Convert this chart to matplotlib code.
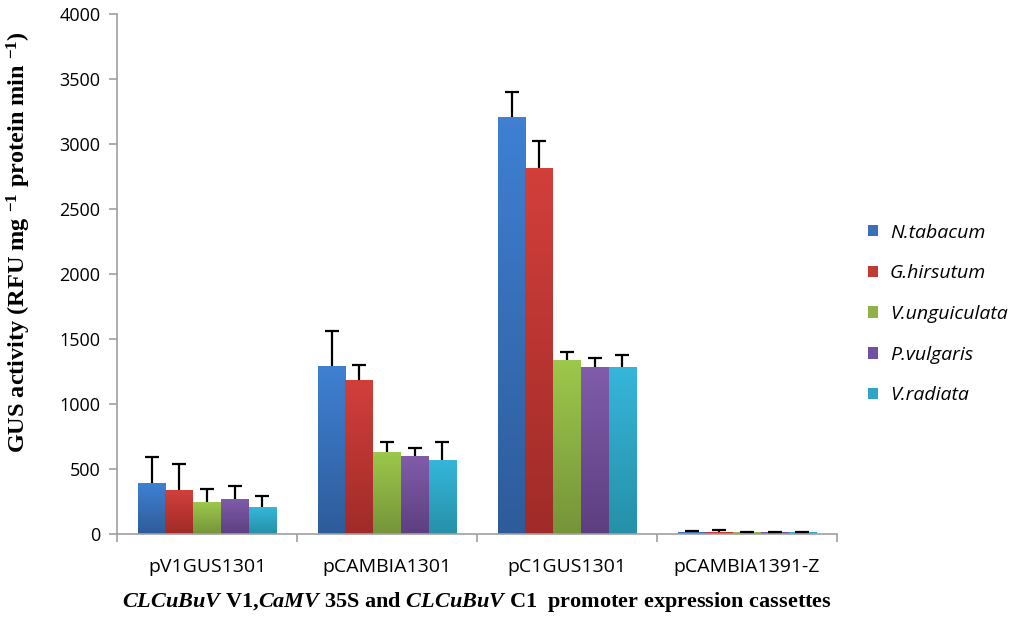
import numpy as np
import matplotlib.pyplot as plt
from matplotlib.colors import LinearSegmentedColormap
from matplotlib.patches import Patch

plt.rcParams['mathtext.fontset'] = 'custom'
plt.rcParams['mathtext.rm'] = 'Liberation Serif:bold'
plt.rcParams['mathtext.it'] = 'Liberation Serif:italic:bold'
plt.rcParams['mathtext.bf'] = 'Liberation Serif:bold'

# ---- data ----
cassettes = ['pV1GUS1301', 'pCAMBIA1301', 'pC1GUS1301', 'pCAMBIA1391-Z']
species = ['N.tabacum', 'G.hirsutum', 'V.unguiculata', 'P.vulgaris', 'V.radiata']

n_tabacum = [390, 1290, 3210, 15]
g_hirsutum = [337, 1185, 2818, 15]
v_unguiculata = [245, 633, 1338, 15]
p_vulgaris = [271, 598, 1287, 15]
v_radiata = [207, 569, 1287, 15]

# upper error (top of whisker minus bar value)
n_tabacum_err = [202, 272, 192, 5]
g_hirsutum_err = [202, 115, 205, 18]
v_unguiculata_err = [100, 77, 64, 3]
p_vulgaris_err = [99, 61, 64, 3]
v_radiata_err = [87, 141, 90, 3]

values = [n_tabacum, g_hirsutum, v_unguiculata, p_vulgaris, v_radiata]
errors = [n_tabacum_err, g_hirsutum_err, v_unguiculata_err, p_vulgaris_err, v_radiata_err]

# top / bottom gradient colours per series
tops = ['#3f80d2', '#d23f3b', '#9cc84b', '#805caa', '#35b6da']
bottoms = ['#2e5c9a', '#a02b28', '#76943a', '#5d3f80', '#2690a8']
legend_cols = ['#3a70b8', '#c03a36', '#8fb348', '#7050a0', '#30a4c4']

fig = plt.figure(figsize=(10.24, 6.22), dpi=100)
ax = fig.add_axes([117 / 1024, 88 / 622, 720 / 1024, 520 / 622])

x = np.arange(len(cassettes))
w = 0.154
offsets = (np.arange(5) - 2) * w

for i in range(5):
    bars = ax.bar(x + offsets[i], values[i], width=w, color=tops[i],
                  linewidth=0, zorder=2)
    cmap = LinearSegmentedColormap.from_list('g%d' % i, [bottoms[i], tops[i]])
    grad = np.linspace(0, 1, 64).reshape(-1, 1)
    for b in bars:
        x0, h = b.get_x(), b.get_height()
        im = ax.imshow(grad, extent=[x0, x0 + w, 0, h], origin='lower',
                       aspect='auto', cmap=cmap, zorder=2.1)
        im.set_clip_path(b)
    eb = ax.errorbar(x + offsets[i], values[i],
                     yerr=[np.zeros(4), errors[i]], fmt='none', ecolor='black',
                     elinewidth=1.6, capsize=5, capthick=1.6, zorder=3)
    # keep only the upper caps
    eb[1][0].remove()

ax.set_xlim(-0.5, 3.5)
ax.set_ylim(0, 4000)
ax.set_yticks(np.arange(0, 4001, 500))
ax.set_xticks(x)
ax.set_xticklabels(cassettes)
ax.set_xticks(np.arange(-0.5, 4, 1), minor=True)

for s in ['top', 'right']:
    ax.spines[s].set_visible(False)
for s in ['left', 'bottom']:
    ax.spines[s].set_color('#a0a0a0')
    ax.spines[s].set_linewidth(1.2)

ax.tick_params(axis='x', which='major', length=0, pad=17, labelsize=14)
ax.tick_params(axis='x', which='minor', length=6, color='#a0a0a0', width=1.2)
ax.tick_params(axis='y', length=6, color='#a0a0a0', width=1.2, pad=6,
               labelsize=13)
for lab in ax.get_xticklabels() + ax.get_yticklabels():
    lab.set_fontfamily('Open Sans')

ax.set_ylabel(r'GUS activity (RFU mg $^{-1}$ protein min $^{-1}$)',
              fontfamily='Liberation Serif', fontweight='bold', fontsize=17.5)
ax.yaxis.set_label_coords(-0.116, 0.561)
ax.set_xlabel(r'$CLCuBuV$ V1,$CaMV$ 35S and $CLCuBuV$ C1  promoter expression cassettes',
              fontfamily='Liberation Serif', fontweight='bold', fontsize=16,
              labelpad=10)

handles = [Patch(facecolor=c, edgecolor='none') for c in legend_cols]
leg = fig.legend(handles, species, loc='upper left',
                 bbox_to_anchor=(850 / 1024, 1 - 206 / 622), frameon=False,
                 handlelength=0.55, handleheight=0.55, handletextpad=0.6,
                 labelspacing=1.17,
                 prop={'family': 'Open Sans', 'style': 'italic', 'size': 14})

fig.savefig('out.png', dpi=100)
